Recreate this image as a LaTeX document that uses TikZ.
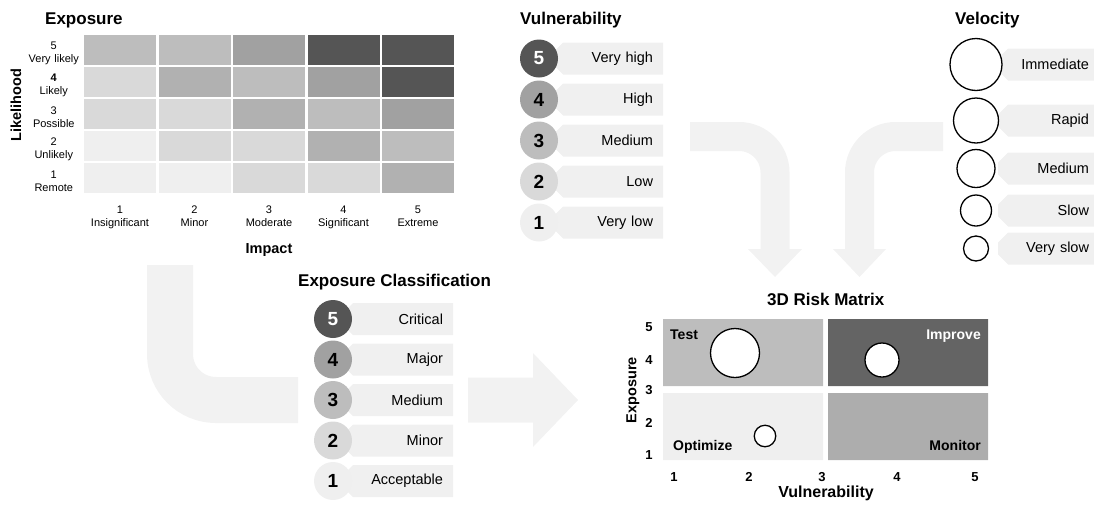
\documentclass[tikz,border=0pt]{standalone}
\usepackage{fontspec}
\setmainfont{Liberation Sans}
\usepackage{tikz}
\usetikzlibrary{positioning, shapes.misc}

\definecolor{lev1}{HTML}{EFEFEF}
\definecolor{lev2}{HTML}{D9D9D9}
\definecolor{lev3}{HTML}{BDBDBD}
\definecolor{lev3b}{HTML}{B1B1B1}
\definecolor{lev4}{HTML}{A1A1A1}
\definecolor{lev5}{HTML}{555555}
\definecolor{tabgray}{HTML}{F0F0F0}
\definecolor{flowgray}{HTML}{F2F2F2}
\definecolor{quaddark}{HTML}{646464}
\definecolor{quadmid}{HTML}{ADADAD}

\begin{document}
\begin{tikzpicture}[x=1pt, y=-1pt,
    cell/.style={rectangle, minimum width=72pt, minimum height=30pt, inner sep=0pt, outer sep=0pt},
    ylbl/.style={text width=52pt, align=center, inner sep=0pt, font=\fontsize{11}{13}\selectfont},
    xlbl/.style={text width=80pt, align=center, inner sep=0pt, font=\fontsize{11}{13}\selectfont},
    heading/.style={inner sep=0pt, anchor=base west, font=\fontsize{17}{20}\selectfont\bfseries},
    axis/.style={inner sep=0pt, font=\fontsize{14.5}{17}\selectfont\bfseries},
    axtick/.style={inner sep=0pt, font=\fontsize{13}{15}\selectfont\bfseries},
    tab/.style={chamfered rectangle, chamfered rectangle corners={north west, south west},
        chamfered rectangle xsep=5pt, chamfered rectangle ysep=5pt, fill=tabgray,
        minimum width=110pt, minimum height=32pt, inner sep=0pt, outer sep=0pt,
        text width=90pt, align=right, font=\fontsize{14.5}{17}\selectfont},
    numdot/.style={circle, minimum size=38pt, inner sep=0pt, outer sep=0pt, font=\fontsize{19}{19}\selectfont\bfseries},
    ring/.style={circle, draw=black, line width=1.3pt, fill=white, inner sep=0pt},
    quad/.style={chamfered rectangle, chamfered rectangle xsep=7pt, chamfered rectangle ysep=7pt,
        minimum width=160pt, minimum height=67pt, inner sep=0pt, outer sep=0pt},
    qlbl/.style={inner sep=0pt, font=\fontsize{14}{16}\selectfont\bfseries},
    flow/.style={draw=flowgray, line width=#1},
    flowhead/.style={fill=flowgray}
]
    \useasboundingbox (0,0) rectangle (1094,504);

    \coordinate (heatout) at (170,265);
    \coordinate (classin) at (298,400);
    \coordinate (vulout) at (690,136.5);
    \coordinate (vulin) at (775,250);
    \coordinate (velout) at (943,136.5);
    \coordinate (velin) at (859.5,250);
    \draw [flow=46pt, rounded corners=46pt] (heatout) |- (classin);
    \fill [flowhead] (468,377.5) -- (533,377.5) -- (533,353) -- (578,400) -- (533,447) -- (533,422.5) -- (468,422.5) -- cycle;
    \draw [flow=29pt, rounded corners=36pt] (vulout) -| (vulin);
    \fill [flowhead] (748,249) -- (802,249) -- (775,277) -- cycle;
    \draw [flow=29pt, rounded corners=36pt] (velout) -| (velin);
    \fill [flowhead] (833,249) -- (886,249) -- (859.5,277) -- cycle;

    \node [heading] (exptitle) at (45,24) {Exposure};
    \node [cell, fill=lev3] (c51) at (120,49.5) {};
    \node [cell, fill=lev3, right=2.5pt of c51] (c52) {};
    \node [cell, fill=lev4, right=2.5pt of c52] (c53) {};
    \node [cell, fill=lev5, right=2.5pt of c53] (c54) {};
    \node [cell, fill=lev5, right=2.5pt of c54] (c55) {};
    \node [cell, fill=lev2, below=2pt of c51] (c41) {};
    \node [cell, fill=lev3b, right=2.5pt of c41] (c42) {};
    \node [cell, fill=lev3, right=2.5pt of c42] (c43) {};
    \node [cell, fill=lev4, right=2.5pt of c43] (c44) {};
    \node [cell, fill=lev5, right=2.5pt of c44] (c45) {};
    \node [cell, fill=lev2, below=2pt of c41] (c31) {};
    \node [cell, fill=lev2, right=2.5pt of c31] (c32) {};
    \node [cell, fill=lev3b, right=2.5pt of c32] (c33) {};
    \node [cell, fill=lev3, right=2.5pt of c33] (c34) {};
    \node [cell, fill=lev4, right=2.5pt of c34] (c35) {};
    \node [cell, fill=lev1, below=2pt of c31] (c21) {};
    \node [cell, fill=lev2, right=2.5pt of c21] (c22) {};
    \node [cell, fill=lev2, right=2.5pt of c22] (c23) {};
    \node [cell, fill=lev3b, right=2.5pt of c23] (c24) {};
    \node [cell, fill=lev3, right=2.5pt of c24] (c25) {};
    \node [cell, fill=lev1, below=2pt of c21] (c11) {};
    \node [cell, fill=lev1, right=2.5pt of c11] (c12) {};
    \node [cell, fill=lev2, right=2.5pt of c12] (c13) {};
    \node [cell, fill=lev2, right=2.5pt of c13] (c14) {};
    \node [cell, fill=lev3b, right=2.5pt of c14] (c15) {};
    \node [ylbl, left=4pt of c51, yshift=-4pt] (l5) {5\\Very likely};
    \node [ylbl, left=4pt of c41, yshift=-4pt] (l4) {\textbf{4}\\Likely};
    \node [ylbl, left=4pt of c31, yshift=-4pt] (l3) {3\\Possible};
    \node [ylbl, left=4pt of c21, yshift=-4pt] (l2) {2\\Unlikely};
    \node [ylbl, left=4pt of c11, yshift=-4pt] (l1) {1\\Remote};
    \node [xlbl, below=13pt of c11] (i1) {1\\Insignificant};
    \node [xlbl, below=13pt of c12] (i2) {2\\Minor};
    \node [xlbl, below=13pt of c13] (i3) {3\\Moderate};
    \node [xlbl, below=13pt of c14] (i4) {4\\Significant};
    \node [xlbl, below=13pt of c15] (i5) {5\\Extreme};
    \node [axis, anchor=base] (impact) at (269,253) {Impact};
    \node [axis, rotate=90] (likelihood) at (16,105) {Likelihood};

    \node [heading] (vultitle) at (520,24.5) {Vulnerability};
    \node [tab] (vt5) at (608,58.5) {Very high};
    \node [tab, below=9pt of vt5] (vt4) {High};
    \node [tab, below=9pt of vt4] (vt3) {Medium};
    \node [tab, below=9pt of vt3] (vt2) {Low};
    \node [tab, below=9pt of vt2] (vt1) {Very low};
    \node [numdot, fill=lev5, text=white, left=-5pt of vt5] (v5) {5};
    \node [numdot, fill=lev4, left=-5pt of vt4] (v4) {4};
    \node [numdot, fill=lev3, left=-5pt of vt3] (v3) {3};
    \node [numdot, fill=lev2, left=-5pt of vt2] (v2) {2};
    \node [numdot, fill=lev1, left=-5pt of vt1] (v1) {1};

    \node [heading] (veltitle) at (955,24.5) {Velocity};
    \node [tab, minimum width=96pt, text width=86pt] (st5) at (1046,64.5) {Immediate};
    \node [tab, minimum width=96pt, text width=86pt] (st4) at (1046,120.5) {Rapid};
    \node [tab, minimum width=96pt, text width=86pt] (st3) at (1046,168.5) {Medium};
    \node [tab, minimum width=96pt, text width=86pt] (st2) at (1046,210.5) {Slow};
    \node [tab, minimum width=96pt, text width=86pt] (st1) at (1046,248.5) {Very slow};
    \node [ring, minimum size=52pt] (s5) at (976,64.5) {};
    \node [ring, minimum size=45pt] (s4) at (976,120.5) {};
    \node [ring, minimum size=38pt] (s3) at (976,168.5) {};
    \node [ring, minimum size=31pt] (s2) at (976,210.5) {};
    \node [ring, minimum size=25pt] (s1) at (976,248.5) {};

    \node [heading] (classtitle) at (298,286.5) {Exposure Classification};
    \node [tab] (et5) at (398,319) {Critical};
    \node [tab, below=8.5pt of et5] (et4) {Major};
    \node [tab, below=8.5pt of et4] (et3) {Medium};
    \node [tab, below=8.5pt of et3] (et2) {Minor};
    \node [tab, below=8.5pt of et2] (et1) {Acceptable};
    \node [numdot, fill=lev5, text=white, left=-9pt of et5] (e5) {5};
    \node [numdot, fill=lev4, left=-9pt of et4] (e4) {4};
    \node [numdot, fill=lev3, left=-9pt of et3] (e3) {3};
    \node [numdot, fill=lev2, left=-9pt of et2] (e2) {2};
    \node [numdot, fill=lev1, left=-9pt of et1] (e1) {1};

    \node [heading] (risktitle) at (767,305) {3D Risk Matrix};
    \node [quad, fill=lev3, chamfered rectangle corners={north east, south west}] (qtest) at (743,352.5) {};
    \node [quad, fill=quaddark, chamfered rectangle corners={north west, south east}, right=5pt of qtest] (qimprove) {};
    \node [quad, fill=lev1, chamfered rectangle corners={north west, south east}, below=7pt of qtest] (qoptimize) {};
    \node [quad, fill=quadmid, chamfered rectangle corners={north east, south west}, below=7pt of qimprove] (qmonitor) {};
    \node [qlbl, anchor=base west] (ltest) at (670,339) {Test};
    \node [qlbl, anchor=base east, text=white] (limprove) at (981,339) {Improve};
    \node [qlbl, anchor=base west] (loptimize) at (673,450.5) {Optimize};
    \node [qlbl, anchor=base east] (lmonitor) at (981,450.5) {Monitor};
    \node [ring, minimum size=49pt] (btest) at (735,353) {};
    \node [ring, minimum size=34pt] (bimprove) at (882,360) {};
    \node [ring, minimum size=21.5pt] (boptimize) at (765,436) {};
    \node [axtick] (y5) at (649,327) {5};
    \node [axtick] (y4) at (649,360) {4};
    \node [axtick] (y3) at (649,390) {3};
    \node [axtick] (y2) at (649,423) {2};
    \node [axtick] (y1) at (649,455) {1};
    \node [axtick] (x1) at (674,477) {1};
    \node [axtick] (x2) at (749,477) {2};
    \node [axtick] (x3) at (822,477) {3};
    \node [axtick] (x4) at (897,477) {4};
    \node [axtick] (x5) at (975,477) {5};
    \node [axis, rotate=90] (expaxis) at (633,390) {Exposure};
    \node [axis, anchor=base, font=\fontsize{16}{18}\selectfont\bfseries] (vulaxis) at (826,497) {Vulnerability};
\end{tikzpicture}
\end{document}
